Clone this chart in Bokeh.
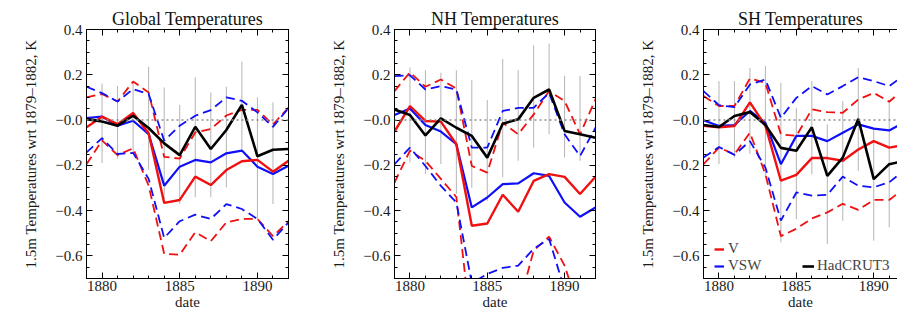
import numpy as np
from bokeh.plotting import figure
from bokeh.models import (FixedTicker, SingleIntervalTicker, LinearAxis, Range1d,
                          Legend, LegendItem, Span)
from bokeh.layouts import row
from bokeh.embed import file_html
from bokeh.resources import INLINE

# ---------------- data ----------------
years = [1879, 1880, 1881, 1882, 1883, 1884, 1885, 1886, 1887, 1888, 1889, 1890, 1891, 1892]
bar_years = [1880, 1881, 1882, 1883, 1884, 1885, 1886, 1887, 1888, 1889, 1890, 1891, 1892]

y_tick_vals = [-0.6, -0.4, -0.2, 0.0, 0.2, 0.4]
y_tick_labels = ["\u22120.6", "\u22120.4", "\u22120.2", "\u22120.0", "0.2", "0.4"]
titles = ["Global Temperatures", "NH Temperatures", "SH Temperatures"]
y_label = "1.5m Temperatures wrt 1879\u20131882, K"
x_label = "date"
legend_names = ["V", "VSW", "HadCRUT3"]

# Global
glob_v = [-0.032, 0.015, -0.018, 0.031, -0.058, -0.366, -0.353, -0.25, -0.287, -0.221, -0.182, -0.176, -0.228, -0.18]
glob_v_hi = [0.10, 0.115, 0.082, 0.17, 0.122, -0.163, -0.17, -0.055, -0.04, 0.02, 0.045, 0.045, -0.02, 0.055]
glob_v_lo = [-0.195, -0.09, -0.155, -0.125, -0.29, -0.591, -0.595, -0.496, -0.535, -0.452, -0.437, -0.437, -0.513, -0.447]
glob_vsw = [0.009, 0.015, -0.025, -0.003, -0.062, -0.29, -0.206, -0.176, -0.187, -0.147, -0.135, -0.206, -0.238, -0.202]
glob_vsw_hi = [0.147, 0.119, 0.082, 0.137, 0.115, -0.091, -0.025, 0.019, 0.044, 0.1, 0.085, 0.034, -0.03, 0.053]
glob_vsw_lo = [-0.143, -0.08, -0.15, -0.145, -0.26, -0.521, -0.447, -0.418, -0.437, -0.371, -0.393, -0.437, -0.529, -0.452]
glob_had = [0.004, -0.006, -0.025, 0.019, -0.035, -0.103, -0.155, -0.03, -0.128, -0.044, 0.067, -0.16, -0.131, -0.128]
glob_err_hi = [0.161, 0.151, 0.166, 0.235, 0.144, 0.067, 0.188, 0.122, 0.147, 0.258, 0.1, 0.078, 0.08]
glob_err_lo = [-0.19, -0.17, -0.15, -0.22, -0.35, -0.37, -0.341, -0.341, -0.297, -0.13, -0.437, -0.371, -0.3]

# NH
nh_v = [-0.051, 0.062, -0.004, -0.007, -0.107, -0.467, -0.457, -0.33, -0.405, -0.269, -0.239, -0.251, -0.327, -0.251]
nh_v_hi = [0.128, 0.211, 0.147, 0.179, 0.139, -0.203, -0.232, -0.012, -0.063, 0.025, 0.128, 0.084, -0.063, 0.091]
nh_v_lo = [-0.276, -0.135, -0.18, -0.26, -0.34, -0.95, -0.97, -0.92, -0.83, -0.577, -0.515, -0.643, -0.85, -0.8]
nh_vsw = [0.022, 0.051, -0.022, -0.051, -0.107, -0.386, -0.342, -0.283, -0.28, -0.235, -0.247, -0.364, -0.427, -0.386]
nh_vsw_hi = [0.194, 0.198, 0.135, 0.15, 0.135, -0.122, -0.122, 0.04, 0.054, 0.054, 0.12, -0.063, -0.159, -0.034]
nh_vsw_lo = [-0.195, -0.122, -0.203, -0.291, -0.364, -0.72, -0.68, -0.653, -0.643, -0.569, -0.525, -0.75, -0.85, -0.8]
nh_had = [0.047, 0.022, -0.068, 0.007, -0.034, -0.07, -0.166, -0.016, 0.003, 0.098, 0.135, -0.048, -0.063, -0.078]
nh_err_hi = [0.232, 0.22, 0.209, 0.22, 0.176, 0.088, 0.27, 0.22, 0.33, 0.338, 0.195, 0.195, 0.2]
nh_err_lo = [-0.187, -0.238, -0.194, -0.326, -0.3, -0.357, -0.253, -0.18, -0.122, -0.063, -0.165, -0.18, -0.2]

# SH
sh_v = [-0.025, -0.032, -0.027, 0.078, -0.025, -0.268, -0.242, -0.168, -0.168, -0.18, -0.13, -0.093, -0.122, -0.11]
sh_v_hi = [0.106, 0.062, 0.062, 0.184, 0.164, -0.063, -0.07, 0.047, 0.035, 0.032, 0.091, 0.12, 0.081, 0.14]
sh_v_lo = [-0.195, -0.122, -0.151, -0.056, -0.239, -0.513, -0.48, -0.435, -0.408, -0.37, -0.397, -0.353, -0.353, -0.3]
sh_vsw = [-0.001, -0.026, -0.022, 0.04, -0.012, -0.195, -0.07, -0.07, -0.093, -0.056, -0.019, -0.038, -0.046, -0.01]
sh_vsw_hi = [0.128, 0.066, 0.057, 0.157, 0.179, 0.01, 0.098, 0.15, 0.113, 0.15, 0.189, 0.172, 0.15, 0.2]
sh_vsw_lo = [-0.166, -0.119, -0.154, -0.093, -0.21, -0.444, -0.32, -0.334, -0.33, -0.25, -0.29, -0.297, -0.275, -0.22]
sh_had = [-0.022, -0.031, 0.018, 0.035, -0.022, -0.123, -0.136, -0.032, -0.247, -0.166, 0.005, -0.261, -0.195, -0.18]
sh_err_hi = [0.172, 0.172, 0.23, 0.238, 0.164, 0.054, 0.172, -0.019, 0.084, 0.23, -0.034, 0.084, 0.1]
sh_err_lo = [-0.195, -0.166, -0.15, -0.25, -0.54, -0.438, -0.24, -0.548, -0.445, -0.225, -0.533, -0.474, -0.45]

# ---------------- style ----------------
FONT = "Liberation Serif"
RED = "#f01010"
BLUE = "#1010f8"
BLACK = "#000000"
GREY = "#b4b4b4"
Y_MINOR = [round(v, 2) for v in np.arange(-0.7, 0.401, 0.05)]


def style_axis(ax, show_labels=True):
    ax.axis_line_color = "black"
    ax.major_tick_in = 6
    ax.major_tick_out = 0
    ax.minor_tick_in = 3
    ax.minor_tick_out = 0
    ax.major_tick_line_color = "black"
    ax.minor_tick_line_color = "black"
    ax.major_label_text_font = FONT
    ax.axis_label_text_font = FONT
    ax.axis_label_text_font_size = "15px"
    ax.axis_label_text_font_style = "normal"
    ax.axis_label_text_color = "#1a1a1a"
    if show_labels:
        ax.major_label_text_color = "#1a1a1a"
        ax.major_label_text_font_size = "15px"
    else:
        ax.major_label_text_color = None
        ax.major_label_text_font_size = "1px"
        ax.major_label_standoff = 0


def make_panel(title, width, b_left, b_right, x_end, v, v_hi, v_lo, vsw, vsw_hi, vsw_lo,
               had, err_hi, err_lo, right_axis=True, legend=False):
    p = figure(width=width, height=313, output_backend="svg", toolbar_location=None,
               x_range=Range1d(1879, x_end), y_range=Range1d(-0.7, 0.4),
               min_border_left=b_left, min_border_right=b_right,
               min_border_top=29, min_border_bottom=35,
               background_fill_color="white", border_fill_color="white")
    p.grid.visible = False
    p.outline_line_color = "black" if right_axis else None
    p.title.text = title
    p.title.text_font = FONT
    p.title.text_font_size = "18px"
    p.title.text_font_style = "normal"
    p.title.align = "center"
    p.title.standoff = 2
    p.title.text_color = "#111111"

    xt = SingleIntervalTicker(interval=5, num_minor_ticks=5)
    yt = FixedTicker(ticks=y_tick_vals, minor_ticks=Y_MINOR)

    xa = p.xaxis[0]
    xa.ticker = xt
    style_axis(xa)
    xa.axis_label = x_label
    xa.major_label_standoff = 2
    xa.axis_label_standoff = 0

    ya = p.yaxis[0]
    ya.ticker = yt
    style_axis(ya)
    ya.axis_label = y_label
    ya.major_label_standoff = 4
    ya.axis_label_standoff = 13
    ya.major_label_overrides = {t: l for t, l in zip(y_tick_vals, y_tick_labels)}

    top = LinearAxis(ticker=SingleIntervalTicker(interval=5, num_minor_ticks=5))
    style_axis(top, show_labels=False)
    p.add_layout(top, "above")
    if right_axis:
        rt = LinearAxis(ticker=FixedTicker(ticks=y_tick_vals, minor_ticks=Y_MINOR))
        style_axis(rt, show_labels=False)
        p.add_layout(rt, "right")

    # uncertainty bars
    p.segment(x0=bar_years, y0=err_lo, x1=bar_years, y1=err_hi, line_color=GREY, line_width=1)
    # zero line
    p.add_layout(Span(location=0, dimension="width", line_color="#8c8c8c",
                      line_dash="2 3", line_width=1.5))

    dash = "9 5"
    p.line(years, v_hi, line_color=RED, line_width=1.8, line_dash=dash)
    p.line(years, v_lo, line_color=RED, line_width=1.8, line_dash=dash)
    p.line(years, vsw_hi, line_color=BLUE, line_width=1.8, line_dash=dash)
    p.line(years, vsw_lo, line_color=BLUE, line_width=1.8, line_dash=dash)
    r_vsw = p.line(years, vsw, line_color=BLUE, line_width=2.2)
    r_v = p.line(years, v, line_color=RED, line_width=2.4)
    r_had = p.line(years, had, line_color=BLACK, line_width=2.6)

    if legend:
        common = dict(padding=0, margin=0, spacing=0, border_line_color=None,
                      background_fill_alpha=0, label_text_font=FONT,
                      label_text_font_size="15px", label_height=14, glyph_height=14)
        lg1 = Legend(items=[LegendItem(label=legend_names[0], renderers=[r_v]),
                            LegendItem(label=legend_names[1], renderers=[r_vsw])],
                     location=(11, 4), glyph_width=10, label_standoff=4, **common)
        lg2 = Legend(items=[LegendItem(label=legend_names[2], renderers=[r_had])],
                     location=(99, 4), glyph_width=12, label_standoff=3, **common)
        p.add_layout(lg1)
        p.add_layout(lg2)
    return p


p1 = make_panel(titles[0], 308, 86, 20, 1892, glob_v, glob_v_hi, glob_v_lo,
                glob_vsw, glob_vsw_hi, glob_vsw_lo, glob_had, glob_err_hi, glob_err_lo)
p2 = make_panel(titles[1], 307, 86, 20, 1892, nh_v, nh_v_hi, nh_v_lo,
                nh_vsw, nh_vsw_hi, nh_vsw_lo, nh_had, nh_err_hi, nh_err_lo)
p3 = make_panel(titles[2], 282, 88, 0, 1879 + 194.3 / 15.5, sh_v, sh_v_hi, sh_v_lo,
                sh_vsw, sh_vsw_hi, sh_vsw_lo, sh_had, sh_err_hi, sh_err_lo,
                right_axis=False, legend=True)

layout = row(p1, p2, p3)
open("out.html", "w").write(file_html(layout, INLINE))
